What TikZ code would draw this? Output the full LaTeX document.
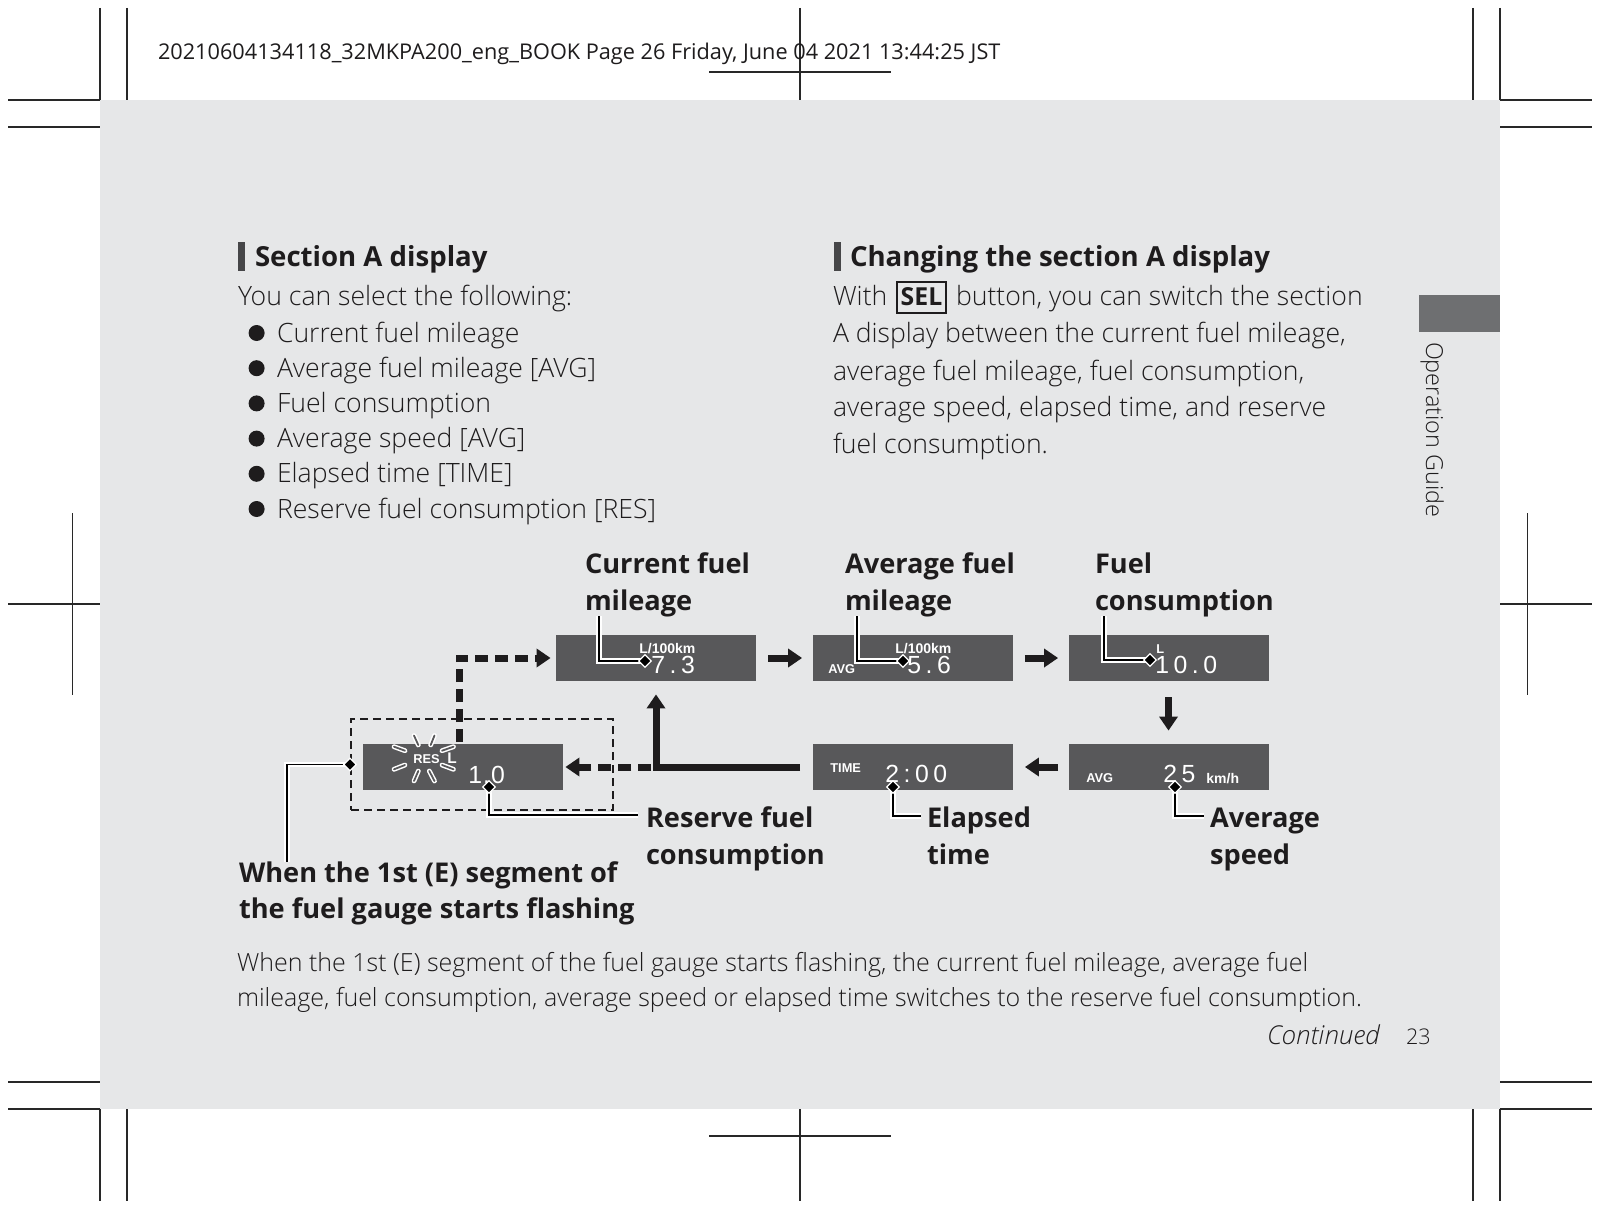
\documentclass[tikz,border=0pt]{standalone}
\usepackage{fontspec}
\usetikzlibrary{arrows.meta,shapes.geometric,calc}
\IfFontExistsTF{Open Sans Light}{\newfontfamily\bodyfont{Open Sans Light}}{\newfontfamily\bodyfont{Open Sans}}
\newfontfamily\osans{Open Sans}
\newfontfamily\lcdfont{Liberation Sans}
\newfontfamily\lcddigits{Liberation Sans}[LetterSpace=18]
\newfontfamily\lcdtight{Liberation Sans}[LetterSpace=4]
\definecolor{pagegray}{RGB}{230,231,232}
\definecolor{dispgray}{RGB}{88,88,90}
\definecolor{tabgray}{RGB}{110,111,113}
\definecolor{ink}{RGB}{30,28,29}
\definecolor{barcol}{RGB}{70,70,72}
\definecolor{cropcol}{RGB}{40,40,40}
\tikzset{
  txt/.style={inner sep=0pt, outer sep=0pt, anchor=base west, text=ink},
  bodytxt/.style={txt, font=\bodyfont\fontsize{13.3pt}{16pt}\selectfont},
  smalltxt/.style={txt, font=\bodyfont\fontsize{12.5pt}{15pt}\selectfont},
  headtxt/.style={txt, font=\osans\bfseries\fontsize{13.8pt}{17pt}\selectfont},
  lbltxt/.style={txt, font=\osans\bfseries\fontsize{13.6pt}{17pt}\selectfont},
  hdrtxt/.style={txt, font=\osans\fontsize{10.85pt}{13pt}\selectfont},
  crop/.style={draw=cropcol, line width=0.6pt},
  bullet/.style={circle, fill=ink, inner sep=0pt, minimum size=8pt},
  disp/.style={fill=dispgray, inner sep=0pt, minimum width=100pt, minimum height=23pt},
  lcdlbl/.style={inner sep=0pt, anchor=base west, text=white, font=\lcdfont\bfseries\fontsize{6.4pt}{7pt}\selectfont},
  lcdunit/.style={lcdlbl, font=\lcdfont\bfseries\fontsize{7pt}{8pt}\selectfont},
  lcdnum/.style={inner sep=0pt, anchor=base west, text=white, font=\lcddigits\fontsize{12.4pt}{13pt}\selectfont},
  bigarrow/.style={draw=ink, line width=3.5pt, -{Triangle[width=9pt,length=7pt]}},
  dasharrow/.style={bigarrow, dash pattern=on 6.5pt off 3.5pt},
  dashbox/.style={draw=ink, line width=1pt, dash pattern=on 4pt off 2.5pt, inner sep=0pt},
  leader/.style={draw=black, line width=0.9pt, preaction={draw=white, line width=2.6pt}},
  dia/.style={diamond, aspect=1, fill=black, draw=white, line width=0.6pt, inner sep=0pt, minimum size=6.5pt},
  flashmark/.style={draw=dispgray, line width=0.9pt, line cap=round, preaction={draw=white, line width=2.4pt, line cap=round}},
}
\begin{document}
\begin{tikzpicture}[x=0.5pt,y=-0.5pt]
\useasboundingbox (0,0) rectangle (1600,1209);
\fill[white] (0,0) rectangle (1600,1209);
\fill[pagegray] (100,100) rectangle (1500,1109);
% crop marks
\draw[crop] (100,8) -- (100,100) (127,8) -- (127,100) (8,100) -- (100,100) (8,127) -- (100,127);
\draw[crop] (1473,8) -- (1473,100) (1500,8) -- (1500,100) (1500,100) -- (1592,100) (1500,127) -- (1592,127);
\draw[crop] (100,1109) -- (100,1201) (127,1109) -- (127,1201) (8,1082) -- (100,1082) (8,1109) -- (100,1109);
\draw[crop] (1473,1109) -- (1473,1201) (1500,1109) -- (1500,1201) (1500,1082) -- (1592,1082) (1500,1109) -- (1592,1109);
\draw[crop] (800,8) -- (800,100) (709,72) -- (891,72);
\draw[crop] (800,1109) -- (800,1201) (709,1136) -- (891,1136);
\draw[crop] (72.7,513) -- (72.7,695) (8,604) -- (100,604);
\draw[crop] (1527.3,513) -- (1527.3,695) (1500,604) -- (1592,604);
% header
\node[hdrtxt] (hdr) at (158,60) {20210604134118\_32MKPA200\_eng\_BOOK Page 26 Friday, June 04 2021 13:44:25 JST};
% left column
\fill[barcol] (238,242) rectangle (245,271);
\node[headtxt] (hA) at (255,267) {Section A display};
\node[bodytxt] (intro) at (238,306) {You can select the following:};
\foreach \t [count=\i] in {Current fuel mileage, Average fuel mileage [AVG], Fuel consumption, Average speed [AVG], Elapsed time [TIME], Reserve fuel consumption [RES]}{
  \node[bullet] (bu\i) at (256.6,{333+35.2*(\i-1)}) {};
  \node[bodytxt] (it\i) at (277,{342+35.2*(\i-1)}) {\t};
}
% right column
\fill[barcol] (834,242) rectangle (841,271);
\node[headtxt] (hB) at (850,267) {Changing the section A display};
\node[bodytxt] (p1a) at (833,306) {With};
\node[draw=ink, line width=0.8pt, inner sep=0pt, minimum width=24.5pt, minimum height=15.5pt] (selbox) at (921.5,297.5) {};
\node[inner sep=0pt, anchor=base, text=ink, font=\osans\bfseries\fontsize{12.4pt}{13pt}\selectfont] (sel) at (921.5,306) {SEL};
\node[bodytxt] (p1b) at (956,306) {button, you can switch the section};
\node[bodytxt] (p2) at (833,343) {A display between the current fuel mileage,};
\node[bodytxt] (p3) at (833,380) {average fuel mileage, fuel consumption,};
\node[bodytxt] (p4) at (833,416) {average speed, elapsed time, and reserve};
\node[bodytxt] (p5) at (833,453) {fuel consumption.};
% side tab
\fill[tabgray] (1419,295) rectangle (1500,332);
\node[txt, rotate=-90, font=\bodyfont\fontsize{11.7pt}{13pt}\selectfont] (og) at (1426,342) {Operation Guide};
% displays
\node[disp] (D1) at (656,658) {};
\node[disp] (D2) at (912.5,658) {};
\node[disp] (D3) at (1168.5,658) {};
\node[disp] (D4) at (1168.5,767) {};
\node[disp] (D5) at (912.5,767) {};
\node[disp] (D6) at (463,767) {};
\node[dashbox, minimum width=131pt, minimum height=45.5pt] (resbox) at (482,764.5) {};
% display contents
\node[lcdunit] (t1u) at (639,653) {L/100km};
\node[lcdnum] (t1n) at (651,673) {7.3};
\node[lcdlbl] (t2a) at (828,673) {AVG};
\node[lcdunit] (t2u) at (895,653) {L/100km};
\node[lcdnum] (t2n) at (907,673) {5.6};
\node[lcdlbl] (t3u) at (1156,653) {L};
\node[lcdnum] (t3n) at (1155,673) {10.0};
\node[lcdlbl] (t4a) at (1086,782) {AVG};
\node[lcdnum] (t4n) at (1163,782) {25};
\node[lcdunit] (t4u) at (1206,783) {km/h};
\node[lcdlbl] (t5a) at (830,772.7) {TIME};
\node[lcdnum] (t5n) at (885,782) {2:00};
\node[lcdlbl] (t6a) at (413,763) {RES};
\node[lcdlbl, font=\lcdfont\bfseries\fontsize{7.7pt}{8pt}\selectfont] (t6l) at (447,763) {L};
\node[lcdnum, font=\lcdtight\fontsize{12.4pt}{13pt}\selectfont] (t6n) at (468,783) {1.0};
\draw[flashmark] (394,746.7) -- (405,750.7);
\draw[flashmark] (394,769.3) -- (405,765);
\draw[flashmark] (414,735.5) -- (418.3,745);
\draw[flashmark] (434.5,735.5) -- (430.7,745);
\draw[flashmark] (418.3,771) -- (414,781);
\draw[flashmark] (429.3,771) -- (434.5,781);
\draw[flashmark] (442,750.7) -- (453.5,746.7);
\draw[flashmark] (442,765) -- (453.5,769.3);
% arrows
\coordinate (ds1) at (651,767);
\coordinate (ds2) at (459,742);
\draw[bigarrow] ($(D1.east)+(12,0)$) -- ($(D2.west)+(-10,0)$);
\draw[bigarrow] ($(D2.east)+(12,0)$) -- ($(D3.west)+(-10,0)$);
\draw[bigarrow] ($(D3.south)+(0,16)$) -- ($(D4.north)+(0,-13)$);
\draw[bigarrow] ($(D4.west)+(-10,0)$) -- ($(D5.east)+(12,0)$);
\draw[bigarrow] ($(D5.west)+(-12,0)$) -| ($(D1.south)+(0,13)$);
\draw[dasharrow] (ds1) -- ($(D6.east)+(2,0)$);
\draw[dasharrow] (ds2) |- ($(D1.west)+(-5,0)$);
% leaders
\coordinate (pm1) at (645,661);
\coordinate (pm2) at (903,661);
\coordinate (pm3) at (1150,660);
\coordinate (pm4) at (489,787);
\coordinate (pm5) at (893,787);
\coordinate (pm6) at (1175,787);
\coordinate (pm7) at (resbox.west);
\coordinate (c1) at (599,616);
\coordinate (c2) at (857,616);
\coordinate (c3) at (1104,616);
\coordinate (c4) at (638,815);
\coordinate (c5) at (921,816);
\coordinate (c6) at (1204,816);
\coordinate (c7) at (287,862);
\draw[leader] (c1) |- (pm1);
\draw[leader] (c2) |- (pm2);
\draw[leader] (c3) |- (pm3);
\draw[leader] (pm4) |- (c4);
\draw[leader] (pm5) |- (c5);
\draw[leader] (pm6) |- (c6);
\draw[leader] (pm7) -| (c7);
\foreach \i in {1,...,7}{\node[dia] (m\i) at (pm\i) {};}
% labels
\node[lbltxt] (lc1) at (585,573) {Current fuel};
\node[lbltxt] (lc2) at (585,610) {mileage};
\node[lbltxt] (la1) at (845,573) {Average fuel};
\node[lbltxt] (la2) at (845,610) {mileage};
\node[lbltxt] (lf1) at (1095,573) {Fuel};
\node[lbltxt] (lf2) at (1095,610) {consumption};
\node[lbltxt] (lr1) at (646,827) {Reserve fuel};
\node[lbltxt] (lr2) at (646,864) {consumption};
\node[lbltxt] (le1) at (927,827) {Elapsed};
\node[lbltxt] (le2) at (927,864) {time};
\node[lbltxt] (ls1) at (1210,827) {Average};
\node[lbltxt] (ls2) at (1210,864) {speed};
\node[lbltxt] (lw1) at (239,882) {When the 1st (E) segment of};
\node[lbltxt] (lw2) at (239,918) {the fuel gauge starts flashing};
% bottom paragraph
\node[smalltxt] (bp1) at (237,971) {When the 1st (E) segment of the fuel gauge starts flashing, the current fuel mileage, average fuel};
\node[smalltxt] (bp2) at (237,1006) {mileage, fuel consumption, average speed or elapsed time switches to the reserve fuel consumption.};
\node[txt, font=\bodyfont\itshape\fontsize{13pt}{14pt}\selectfont] (cont) at (1267,1044) {Continued};
\node[txt, font=\bodyfont\fontsize{10.8pt}{13pt}\selectfont] (pg) at (1406,1044) {23};
\end{tikzpicture}
\end{document}
